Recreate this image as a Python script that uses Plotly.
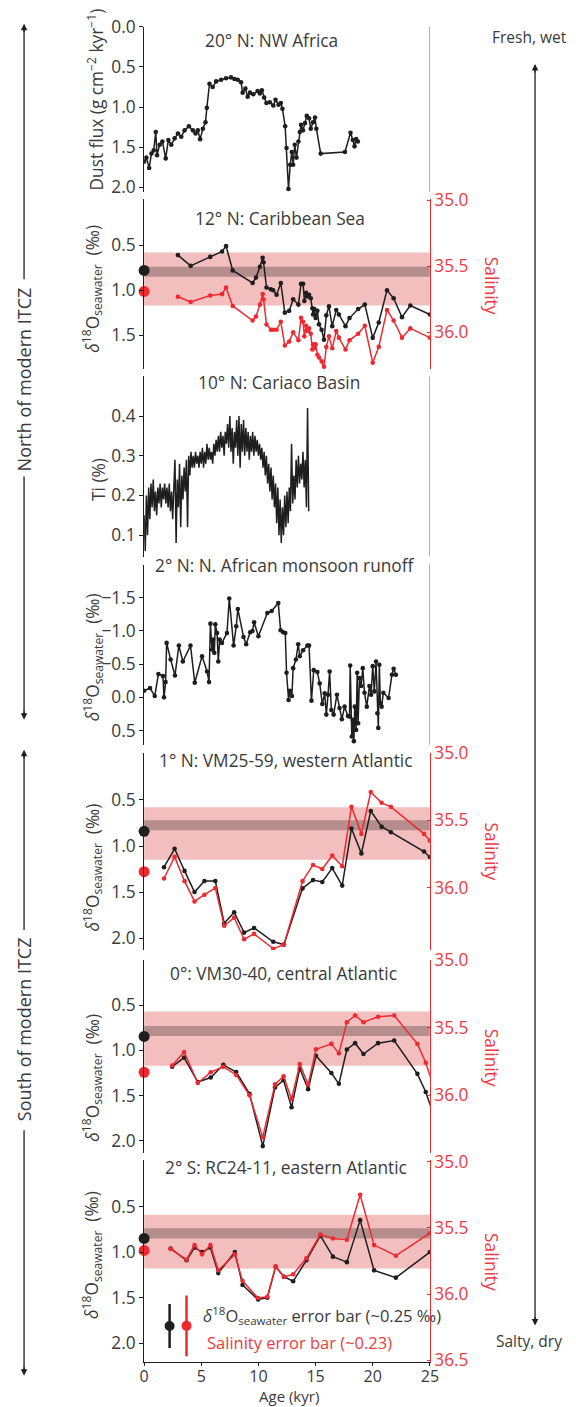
import plotly.graph_objects as go

# ---------------- data ----------------
dust_age = [0.0,0.2,0.44,0.64,0.84,1.02,1.13,1.36,1.6,1.89,2.12,2.38,2.67,2.96,3.25,3.54,3.92,4.27,4.5,4.7,
            4.9,5.14,5.37,5.49,5.72,6.0,6.3,6.74,7.17,7.6,7.9,8.19,8.48,8.62,8.86,9.06,9.26,9.55,9.93,10.13,
            10.3,10.5,10.7,11.0,11.3,11.5,11.76,11.96,12.1,12.34,12.46,12.63,12.78,12.92,13.04,13.18,13.33,13.5,13.62,13.73,
            13.9,14.08,14.23,14.43,14.58,14.78,14.95,15.07,15.45,17.57,18.06,18.26,18.41,18.55,18.7]
dust_flux = [1.68,1.63,1.76,1.58,1.54,1.31,1.60,1.47,1.43,1.64,1.41,1.47,1.39,1.33,1.37,1.29,1.24,1.29,1.33,1.29,
             1.40,1.27,1.19,1.01,0.71,0.75,0.68,0.66,0.64,0.63,0.65,0.66,0.69,0.82,0.77,0.87,0.82,0.84,0.80,0.83,
             0.79,0.88,0.95,0.94,0.98,0.91,0.97,0.95,1.02,1.24,1.51,2.02,1.72,1.56,1.72,1.47,1.63,1.43,1.31,1.22,
             1.29,1.20,1.11,1.14,1.27,1.19,1.13,1.27,1.58,1.56,1.32,1.41,1.49,1.40,1.43]

carib_age = [2.96,4.07,5.78,6.82,7.17,7.75,9.49,9.79,10.13,10.37,10.45,10.71,11.09,11.29,11.59,11.96,12.31,12.69,13.04,13.5,
             13.73,13.91,14.02,14.17,14.29,14.43,14.58,14.72,14.78,14.9,15.01,15.16,15.3,15.53,15.74,15.94,16.17,16.46,16.81,17.04,
             17.62,17.97,18.73,19.31,20.0,20.53,21.25,21.83,22.56,23.29,25.0]
carib_d18o = [0.61,0.73,0.63,0.57,0.51,0.78,0.92,0.86,0.74,0.64,0.69,0.97,0.99,1.0,1.05,0.92,1.25,1.23,1.10,1.16,
              0.93,0.93,1.12,1.03,1.07,1.05,1.09,1.2,1.27,1.21,1.31,1.23,1.38,1.44,1.55,1.28,1.18,1.40,1.22,1.27,
              1.40,1.31,1.21,1.16,1.53,1.36,1.0,1.09,1.30,1.17,1.27]
carib_sal = [35.73,35.77,35.72,35.71,35.66,35.80,35.91,35.88,35.79,35.71,35.75,35.94,35.98,35.98,35.98,35.92,36.10,36.07,36.00,36.06,
             35.89,35.92,36.03,35.95,35.99,35.97,36.01,36.13,36.09,36.12,36.09,36.17,36.19,36.22,36.26,36.11,36.03,36.12,35.99,36.04,
             36.13,36.06,36.01,35.95,36.23,36.11,35.83,35.91,36.04,35.97,36.04]

ti_age = [0.0,0.1,0.2,0.3,0.4,0.5,0.6,0.7,0.8,0.9,
          1.0,1.1,1.2,1.3,1.4,1.5,1.6,1.7,1.8,1.9,
          2.0,2.1,2.2,2.3,2.4,2.5,2.6,2.7,2.8,2.9,
          3.0,3.1,3.2,3.3,3.4,3.5,3.6,3.7,3.8,3.9,
          4.0,4.1,4.2,4.3,4.4,4.5,4.6,4.7,4.8,4.9,
          5.0,5.1,5.2,5.3,5.4,5.5,5.6,5.7,5.8,5.9,
          6.0,6.1,6.2,6.3,6.4,6.5,6.6,6.7,6.8,6.9,
          7.0,7.1,7.2,7.3,7.4,7.5,7.6,7.7,7.8,7.9,
          8.0,8.1,8.2,8.3,8.4,8.5,8.6,8.7,8.8,8.9,
          9.0,9.1,9.2,9.3,9.4,9.5,9.6,9.7,9.8,9.9,
          10.0,10.1,10.2,10.3,10.4,10.5,10.6,10.7,10.8,10.9,
          11.0,11.1,11.2,11.3,11.4,11.5,11.6,11.7,11.8,11.9,
          12.0,12.1,12.2,12.3,12.4,12.5,12.6,12.7,12.8,12.9,
          13.0,13.1,13.2,13.3,13.4,13.5,13.6,13.7,13.8,13.9,
          14.0,14.1,14.2,14.3,14.4]
ti_pct = [0.15,0.06,0.20,0.10,0.22,0.14,0.23,0.17,0.24,0.16,
          0.21,0.15,0.22,0.18,0.23,0.17,0.22,0.19,0.23,0.18,
          0.22,0.17,0.23,0.16,0.21,0.14,0.22,0.29,0.08,0.24,
          0.17,0.28,0.12,0.25,0.19,0.27,0.21,0.29,0.12,0.30,
          0.25,0.31,0.27,0.30,0.27,0.31,0.28,0.30,0.27,0.31,
          0.28,0.32,0.27,0.31,0.28,0.33,0.29,0.32,0.29,0.31,
          0.28,0.33,0.30,0.34,0.31,0.35,0.31,0.36,0.32,0.35,
          0.30,0.36,0.33,0.38,0.32,0.40,0.31,0.37,0.28,0.36,
          0.32,0.39,0.30,0.40,0.27,0.38,0.31,0.39,0.30,0.37,
          0.31,0.36,0.29,0.35,0.31,0.36,0.30,0.35,0.31,0.34,
          0.30,0.33,0.29,0.32,0.27,0.31,0.25,0.30,0.23,0.28,
          0.21,0.27,0.19,0.25,0.17,0.23,0.13,0.22,0.10,0.19,
          0.08,0.17,0.10,0.20,0.12,0.21,0.13,0.22,0.16,0.33,
          0.18,0.25,0.19,0.29,0.22,0.30,0.23,0.28,0.24,0.31,
          0.22,0.29,0.17,0.42,0.16]

mon_age = [0.0,0.52,0.93,1.25,1.65,1.74,1.88,1.97,2.32,2.7,
           3.04,3.39,4.06,4.43,5.07,5.51,5.68,5.8,5.94,6.03,
           6.14,6.23,6.38,6.49,6.61,6.81,7.25,7.45,7.83,8.06,
           8.2,8.7,8.93,9.28,9.48,9.62,10.0,10.78,11.16,11.74,
           11.94,12.17,12.35,12.46,12.64,12.75,12.93,13.04,13.28,13.48,
           13.62,13.91,14.29,14.43,14.64,14.84,15.16,15.36,15.59,15.8,
           15.94,16.09,16.23,16.38,16.58,16.87,17.1,17.3,17.54,17.83,
           17.97,18.03,18.17,18.26,18.35,18.43,18.55,18.64,18.72,18.84,
           18.99,19.13,19.28,19.48,19.71,19.86,20.0,20.14,20.29,20.41,
           20.49,20.58,20.67,20.78,20.93,21.39,21.68,21.83,22.03]
mon_d18o = [-0.10,-0.14,-0.02,-0.35,-0.32,0.0,-0.23,-0.82,-0.57,-0.33,
            -0.78,-0.54,-0.78,-0.22,-0.62,-0.39,-0.23,-1.11,-0.72,-0.87,
            -0.67,-1.10,-0.97,-0.54,-0.87,-0.82,-0.97,-1.49,-0.78,-1.07,
            -1.33,-0.91,-0.80,-0.98,-1.0,-1.13,-0.92,-1.27,-1.30,-1.42,
            -1.01,-0.98,-0.97,-0.37,0.04,-0.10,-0.02,-0.44,-0.57,-0.80,
            -0.62,-0.71,-0.78,-0.78,0.05,-0.41,-0.38,-0.21,0.10,-0.06,
            0.26,-0.04,-0.39,0.19,0.26,-0.04,0.16,0.33,0.14,0.28,
            0.29,-0.48,0.59,0.34,0.66,0.14,0.49,-0.37,0.39,-0.29,
            -0.17,-0.44,-0.07,0.14,-0.17,-0.04,-0.47,-0.09,-0.54,0.24,
            0.46,-0.49,0.09,0.14,-0.07,0.01,-0.34,-0.43,-0.34]

vm25_age = [1.74,2.67,3.54,4.41,5.28,6.23,7.01,7.88,8.75,9.62,11.3,12.23,13.86,14.78,15.59,16.46,17.33,18.14,19.01,19.83,20.78,21.59,24.49,25.0]
vm25_d18o = [1.23,1.03,1.27,1.50,1.38,1.38,1.84,1.72,1.94,1.89,2.04,2.07,1.46,1.37,1.39,1.24,1.43,0.81,1.08,0.62,0.79,0.85,1.06,1.12]
vm25_sal = [35.93,35.77,35.95,36.10,36.05,36.00,36.28,36.22,36.38,36.34,36.45,36.42,35.95,35.83,35.86,35.76,35.84,35.40,35.60,35.29,35.37,35.40,35.60,35.65]

vm30_age = [2.46,3.5,4.7,5.83,6.93,8.06,9.22,10.38,11.45,12.2,12.9,13.62,14.35,15.04,16.38,17.04,17.74,18.46,19.19,20.47,21.88,23.91,24.64,25.07]
vm30_d18o = [1.18,1.08,1.35,1.30,1.16,1.24,1.48,2.06,1.41,1.33,1.63,1.20,1.43,1.06,1.25,1.37,0.99,0.92,1.04,0.92,0.89,1.26,1.46,1.62]
vm30_sal = [35.78,35.68,35.91,35.83,35.79,35.85,36.00,36.31,35.92,35.86,36.03,35.77,35.92,35.66,35.62,35.69,35.46,35.41,35.46,35.42,35.41,35.62,35.76,35.87]

rc24_age = [2.32,3.71,4.41,5.07,5.8,6.49,7.94,8.61,9.97,10.78,11.51,12.23,13.04,14.2,15.42,16.52,17.74,18.9,20.12,22.03,25.0]
rc24_d18o = [0.96,1.09,0.95,1.0,0.95,1.23,1.0,1.36,1.52,1.50,1.16,1.27,1.32,1.09,0.82,1.05,1.11,0.65,1.20,1.28,1.0]
rc24_sal = [35.66,35.74,35.63,35.70,35.63,35.82,35.70,35.90,36.03,36.02,35.79,35.87,35.85,35.73,35.55,35.58,35.59,35.25,35.63,35.71,35.54]

# modern values (δ18O, salinity) and bands (δ18O) for the 4 salinity panels
modern_d18o = [0.78, 0.84, 0.845, 0.85]
modern_sal = [35.69, 35.88, 35.83, 35.67]
band_pink = [(0.58, 1.17), (0.58, 1.15), (0.57, 1.17), (0.59, 1.18)]
band_dark = [(0.74, 0.85), (0.72, 0.83), (0.73, 0.84), (0.74, 0.85)]

err_age = [2.23, 3.71]
err_d18o_center, err_d18o = 1.81, 0.24
err_sal_center, err_sal = 36.24, 0.23

panel_titles = ["20° N: NW Africa", "12° N: Caribbean Sea", "10° N: Cariaco Basin",
                "2° N: N. African monsoon runoff", "1° N: VM25-59, western Atlantic",
                "0°: VM30-40, central Atlantic", "2° S: RC24-11, eastern Atlantic"]
d18o_title = "<i>δ</i><sup>18</sup>O<sub>seawater</sub>  (‰)"
left_titles = ["Dust flux (g cm<sup>−2</sup> kyr<sup>−1</sup>)", d18o_title, "Ti (%)",
               d18o_title, d18o_title, d18o_title, d18o_title]
x_ticks = [0, 5, 10, 15, 20, 25]

# ---------------- style / layout ----------------
# the page is photographed slightly scaled (S) with the figure offset by the body margin
S = 0.983
CX, CY = 8, 21.5
W, H = 568, 1400
FONT = "Open Sans"
INK = "#1e1e1e"
TXT = "#3a3a3a"
RED = "#ee2a30"
REDTXT = "#ee3a40"
GREY = "#808080"
PINK = "#f2bebe"
DARK = "#b58d8d"
FS = 17.3

def fx(x):
    return (x / S - CX) / W

def fy(y):
    return 1 - (y / S - CY) / H

panels = [(28, 193), (200, 370), (377, 557), (565, 745), (753, 950), (960, 1153), (1160, 1361)]
xdom = [fx(140), fx(428)]

left_ranges = [[2.06, 0.0], [1.88, -0.013], [0.046, 0.5], [0.715, -2.0], [2.13, -0.012], [2.14, 0.0], [2.2, -0.005]]
left_ticks = [[0.0, 0.5, 1.0, 1.5, 2.0], [0.5, 1.0, 1.5], [0.1, 0.2, 0.3, 0.4],
              [-1.5, -1.0, -0.5, 0.0, 0.5], [0.5, 1.0, 1.5, 2.0], [0.5, 1.0, 1.5, 2.0], [0.5, 1.0, 1.5, 2.0]]
sal_panels = [2, 5, 6, 7]
sal_ranges = [[36.28, 34.99], [36.46, 35.0], [36.43, 35.0], [36.51, 34.99]]
sal_ticks = [[35.0, 35.5, 36.0], [35.0, 35.5, 36.0], [35.0, 35.5, 36.0], [35.0, 35.5, 36.0, 36.5]]

fig = go.Figure()

def line_trace(x, y, yax, color, markers=True, width=1.5):
    return go.Scatter(x=x, y=y, xaxis="x", yaxis=yax,
                      mode="lines+markers" if markers else "lines",
                      line=dict(color=color, width=width),
                      marker=dict(size=4.6, color=color),
                      showlegend=False, hoverinfo="skip")

fig.add_trace(line_trace(dust_age, dust_flux, "y", INK))
fig.add_trace(line_trace(ti_age, ti_pct, "y3", INK, markers=False, width=1.5))
fig.add_trace(line_trace(mon_age, mon_d18o, "y4", INK))

sal_series = [(carib_age, carib_d18o, carib_sal), (vm25_age, vm25_d18o, vm25_sal),
              (vm30_age, vm30_d18o, vm30_sal), (rc24_age, rc24_d18o, rc24_sal)]
for k, (p, (ag, d, s)) in enumerate(zip(sal_panels, sal_series)):
    ly = f"y{p}"
    ry = f"y{8 + k}"
    fig.add_trace(line_trace(ag, s, ry, RED))
    fig.add_trace(line_trace(ag, d, ly, INK))
    fig.add_trace(go.Scatter(x=[0], y=[modern_d18o[k]], xaxis="x", yaxis=ly, mode="markers",
                             marker=dict(size=11, color=INK), cliponaxis=False,
                             showlegend=False, hoverinfo="skip"))
    fig.add_trace(go.Scatter(x=[0], y=[modern_sal[k]], xaxis="x", yaxis=ry, mode="markers",
                             marker=dict(size=11, color=RED), cliponaxis=False,
                             showlegend=False, hoverinfo="skip"))

# error bar legend
fig.add_trace(go.Scatter(x=[err_age[0]], y=[err_d18o_center], xaxis="x", yaxis="y7", mode="markers",
                         marker=dict(size=10, color=INK),
                         error_y=dict(type="constant", value=err_d18o, color=INK, thickness=2.5, width=0),
                         showlegend=False, hoverinfo="skip"))
fig.add_trace(go.Scatter(x=[err_age[1]], y=[err_sal_center], xaxis="x", yaxis="y11", mode="markers",
                         marker=dict(size=10, color=RED),
                         error_y=dict(type="constant", value=err_sal, color=RED, thickness=2.5, width=0),
                         showlegend=False, hoverinfo="skip"))

layout = dict(
    width=W, height=H, margin=dict(l=0, r=0, t=0, b=0),
    paper_bgcolor="white", plot_bgcolor="white",
    font=dict(family=FONT, size=FS, color=TXT),
    showlegend=False,
    xaxis=dict(domain=xdom, range=[0, 25], anchor="y7", showline=True, linecolor=INK, linewidth=1,
               ticks="outside", ticklen=3, tickcolor=INK, tickvals=x_ticks, showgrid=False, zeroline=False,
               ticklabelstandoff=-3, tickfont=dict(size=16, color=TXT)),
)
for i in range(7):
    top, bot = panels[i]
    name = "yaxis" if i == 0 else f"yaxis{i + 1}"
    layout[name] = dict(domain=[fy(bot), fy(top)], anchor="x", range=left_ranges[i],
                        tickvals=left_ticks[i], tickformat=".1f", showline=True, linecolor=INK,
                        linewidth=1, ticks="outside", ticklen=4, tickcolor=INK, showgrid=False,
                        zeroline=False, tickfont=dict(size=FS, color=TXT))
for k, p in enumerate(sal_panels):
    layout[f"yaxis{8 + k}"] = dict(overlaying=f"y{p}", side="right", anchor="x", range=sal_ranges[k],
                                   tickvals=sal_ticks[k], tickformat=".1f", showline=True, linecolor=RED,
                                   linewidth=1, ticks="inside", ticklen=3, tickcolor=RED, showgrid=False,
                                   zeroline=False, tickfont=dict(size=FS, color=REDTXT))
fig.update_layout(**layout)

shapes = []
for k, p in enumerate(sal_panels):
    shapes.append(dict(type="rect", xref="x", yref=f"y{p}", x0=0, x1=25, y0=band_pink[k][0], y1=band_pink[k][1],
                       fillcolor=PINK, line=dict(width=0), layer="below"))
    shapes.append(dict(type="rect", xref="x", yref=f"y{p}", x0=0, x1=25, y0=band_dark[k][0], y1=band_dark[k][1],
                       fillcolor=DARK, line=dict(width=0), layer="below"))
for p in [1, 3, 4]:
    yr = "y domain" if p == 1 else f"y{p} domain"
    shapes.append(dict(type="line", xref="x", yref=yr, x0=25, x1=25, y0=0, y1=1,
                       line=dict(color=GREY, width=1.2)))
# outer arrow shafts (paper coordinates)
for (xa, y0, y1) in [(19, 27, 280), (19, 477, 718), (19, 752, 930), (19, 1130, 1373), (534, 67, 1323)]:
    shapes.append(dict(type="line", xref="paper", yref="paper", x0=fx(xa), x1=fx(xa), y0=fy(y0), y1=fy(y1),
                       line=dict(color=INK, width=1.3)))
fig.update_layout(shapes=shapes)

def text_ann(text, x, y, size=FS, color=TXT, angle=0, xanchor="center"):
    return dict(text=text, x=fx(x), y=fy(y), xref="paper", yref="paper", showarrow=False,
                textangle=angle, xanchor=xanchor, yanchor="middle", font=dict(size=size, color=color))

ann = []
title_pos = [(268, 42), (277, 219), (276, 383), (282, 566), (283, 761), (280, 973), (283, 1167)]
for t, (x, y) in zip(panel_titles, title_pos):
    ann.append(text_ann(t, x, y))
ltitle_pos = [(91, 100), (88, 290), (94, 480), (88, 658), (88, 868), (88, 1078), (88, 1255)]
for t, (x, y) in zip(left_titles, ltitle_pos):
    ann.append(text_ann(t, x, y, angle=-90))
for y in [287, 852, 1058, 1262]:
    ann.append(text_ann("Salinity", 490, y, color=REDTXT, angle=90))
ann.append(text_ann("Age (kyr)", 286, 1395, size=15))
ann.append(text_ann("<i>δ</i><sup>18</sup>O<sub>seawater</sub> error bar (~0.25 ‰)", 197, 1315, size=16.5,
                    xanchor="left"))
ann.append(text_ann("Salinity error bar (~0.23)", 201, 1342, size=16.5, color=REDTXT, xanchor="left"))
# outer labels
ann.append(text_ann("North of modern ITCZ", 19, 380, size=18, angle=-90))
ann.append(text_ann("South of modern ITCZ", 19, 1029, size=18, angle=-90))
# arrowheads: (x, tip y, direction +1 = pointing up, -1 = pointing down)
for (xa, hy, d) in [(19, 25, 1), (19, 720, -1), (19, 750, 1), (19, 1375, -1), (534, 65, 1), (534, 1325, -1)]:
    ann.append(dict(text="", x=fx(xa), y=fy(hy), xref="paper", yref="paper", showarrow=True,
                    ax=0, ay=10 * d, arrowhead=2, arrowsize=1, arrowwidth=1.3, arrowcolor=INK, standoff=0))
ann.append(text_ann("Fresh, wet", 528, 38, size=15.5))
ann.append(text_ann("Salty, dry", 528, 1340, size=15.5))
fig.update_layout(annotations=ann)

fig.write_html("out.html")
